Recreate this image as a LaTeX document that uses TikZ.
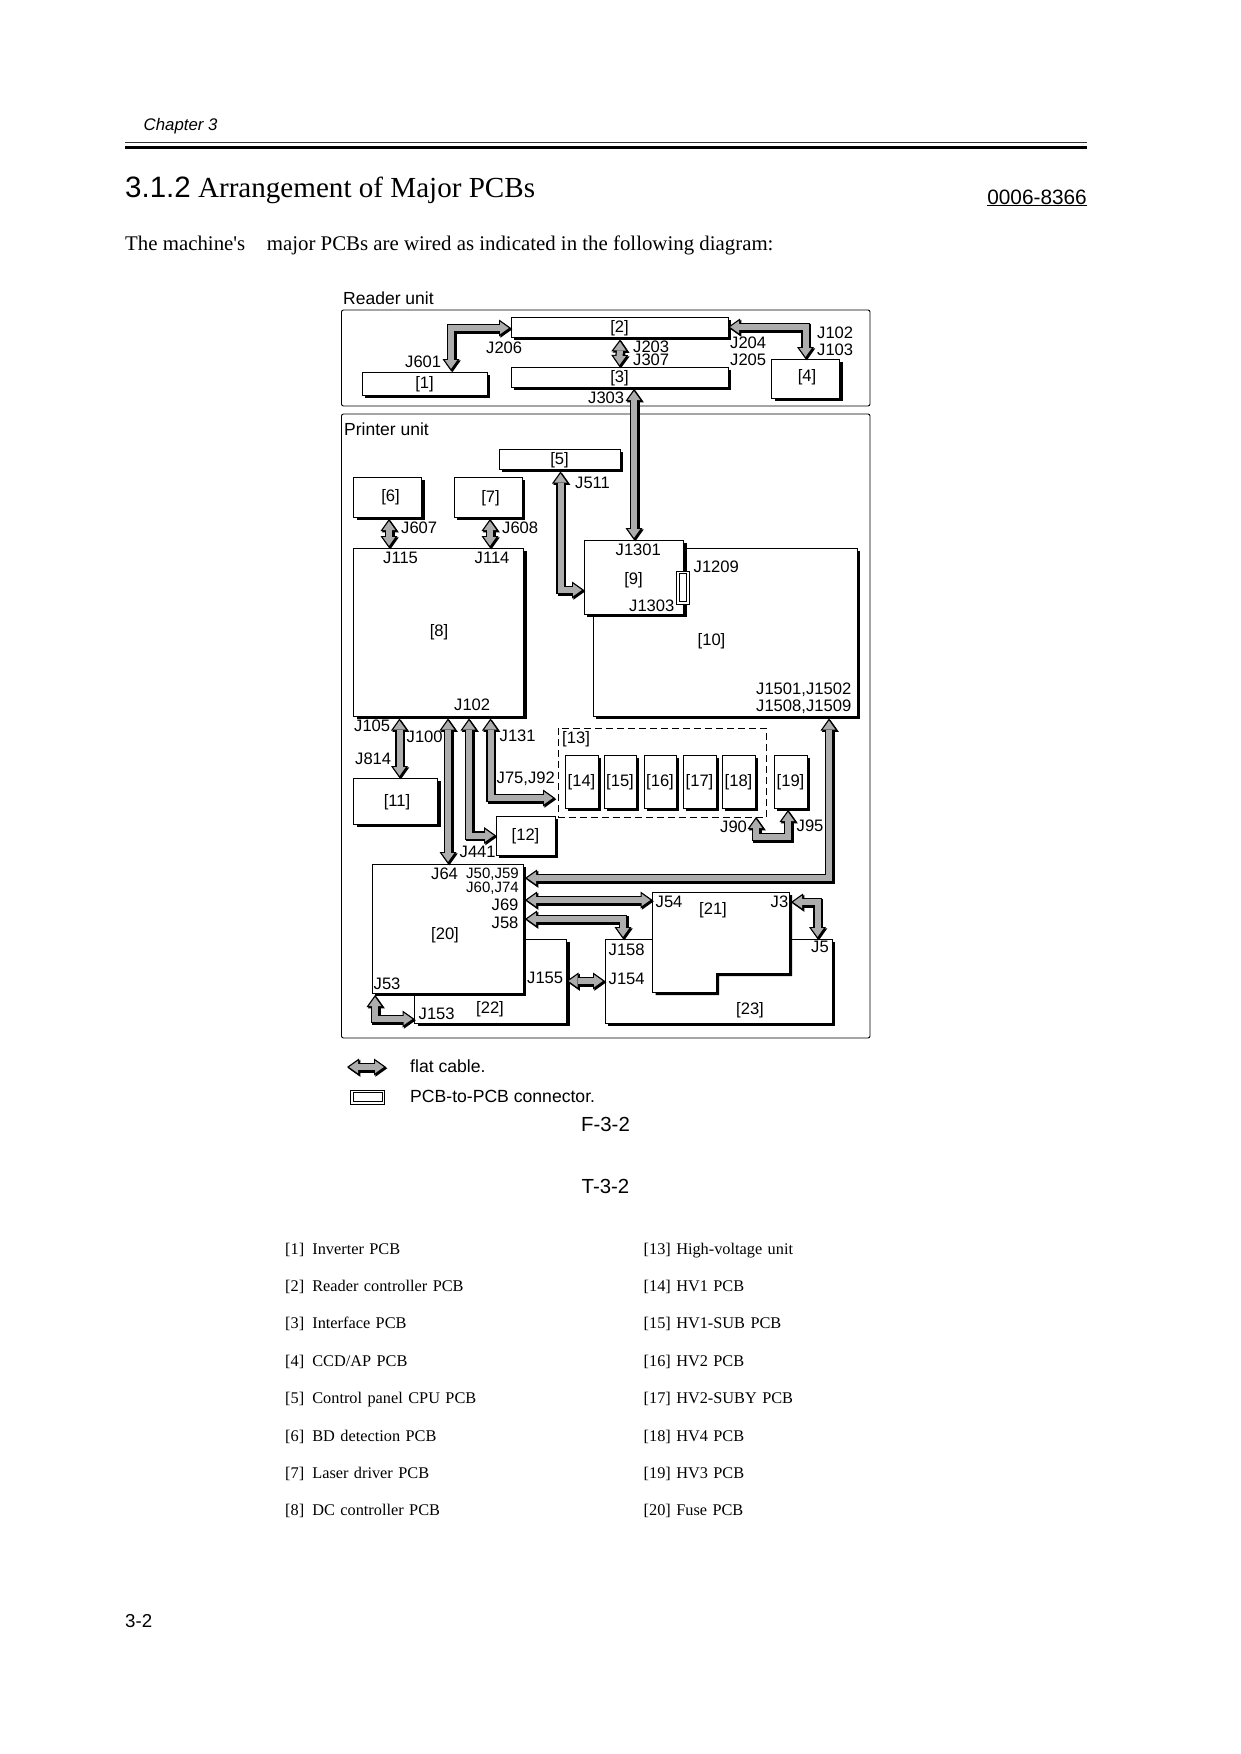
\documentclass[tikz,border=0pt]{standalone}
\usepackage{fontspec}
\setmainfont{Liberation Serif}
\setsansfont{Liberation Sans}
\usetikzlibrary{positioning,arrows.meta}
\definecolor{cablegray}{gray}{0.68}
\tikzset{
  pcb/.style={draw,fill=white,line width=0.8pt,inner sep=0pt,outer sep=0pt,text depth=1.5pt,
    font=\sffamily\fontsize{16.6}{18}\selectfont,anchor=north west,
    preaction={fill=black,transform canvas={shift={(3,3)}}}},
  unitbox/.style={draw,line width=0.9pt,rounded corners=2pt},
  jlbl/.style={inner sep=0pt,anchor=west,yshift=-0.6pt,font=\sffamily\fontsize{16.6}{18}\selectfont},
  nolbl/.style={inner sep=0pt,yshift=-0.6pt,font=\sffamily\fontsize{16.6}{18}\selectfont},
  boardjoint/.style={draw,fill=white,line width=0.8pt,inner sep=0pt,outer sep=0pt},
  outertip/.style={arrows={Triangle[length=12pt,width=17pt,line width=0pt]-Triangle[length=12pt,width=17pt,line width=0pt]}},
  cable/.style={draw=black,line width=8.5pt,outertip,
    preaction={draw=black,line width=8.5pt,outertip,transform canvas={shift={(1.3,1.3)}}},
    postaction={draw=cablegray,line width=6pt,shorten >=2.2pt,shorten <=2.2pt,
      arrows={Triangle[length=8.8pt,width=12.5pt,line width=0pt]-Triangle[length=8.8pt,width=12.5pt,line width=0pt]}}},
  headtxt/.style={inner sep=0pt,anchor=base west},
  item/.style={inner sep=0pt,text width=300pt,text height=12pt,text depth=4pt,
    font=\fontsize{16.3}{18}\selectfont},
  figtxt/.style={inner sep=0pt,font=\sffamily\fontsize{20.4}{22}\selectfont},
}

\begin{document}
\begin{tikzpicture}[x=1pt,y=-1pt,node distance=21pt]
  \useasboundingbox (0,0) rectangle (1240,1754);
  % page head
  \node[headtxt,font=\sffamily\itshape\fontsize{16.8}{18}\selectfont] (chap) at (143.5,130) {Chapter 3};
  \draw[line width=0.9pt,black!80] (125,142) -- (1087,142);
  \draw[line width=3.2pt] (125,147.6) -- (1087,147.6);
  \node[headtxt,font=\fontsize{29.1}{32}\selectfont] (title) at (125,197)
    {{\sffamily\fontsize{29.5}{32}\selectfont 3.1.2} Arrangement of Major PCBs};
  \node[headtxt,anchor=base east,font=\sffamily\fontsize{20.8}{24}\selectfont] (docno) at (1087,204) {\underline{0006-8366}};
  \node[headtxt,font=\fontsize{20.85}{24}\selectfont] (intro) at (125,250)
    {The machine\textquotesingle s\hspace{1.03em}major PCBs are wired as indicated in the following diagram:};

  % units
  \node[jlbl,font=\sffamily\fontsize{17.5}{20}\selectfont] (reader) at (343,298) {Reader unit};
  \draw[unitbox] (341.5,310) rectangle (870,406);
  \node[jlbl,font=\sffamily\fontsize{17.5}{20}\selectfont] (printer) at (344,428.5) {Printer unit};
  \draw[unitbox] (341.5,414) rectangle (870,1038);

  % boards
  \node[pcb,minimum width=125pt,minimum height=23pt] (b1) at (362,372) {[1]};
  \node[pcb,minimum width=217pt,minimum height=20pt] (b2) at (511,317) {[2]};
  \node[pcb,minimum width=217pt,minimum height=20pt] (b3) at (511,367) {[3]};
  \node[pcb,minimum width=68pt,minimum height=39pt]  (b4) at (771.5,359) {};
  \node[pcb,minimum width=121pt,minimum height=20pt] (b5) at (499,449) {[5]};
  \node[pcb,minimum width=68pt,minimum height=40pt]  (b6) at (353.5,477) {};
  \node[pcb,minimum width=68pt,minimum height=40pt]  (b7) at (454,477) {};
  \node[pcb,minimum width=170pt,minimum height=168pt] (b8) at (353.5,548) {};
  \node[pcb,minimum width=264pt,minimum height=168pt] (b10) at (593,548) {};
  \node[pcb,minimum width=99.5pt,minimum height=74pt] (b9) at (584,540) {};
  \node[boardjoint,minimum width=12.5pt,minimum height=33pt] (b9j) at (682.7,587.5) {};
  \node[boardjoint,minimum width=7pt,minimum height=27.5pt] (b9i) at (b9j) {};
  \node[pcb,minimum width=84pt,minimum height=46pt]  (b11) at (353.5,778) {};
  \node[pcb,minimum width=59pt,minimum height=39pt]  (b12) at (496,816) {[12]};
  \draw[dashed,dash pattern=on 7pt off 4pt,line width=0.7pt] (558.5,728) rectangle (766,817);
  \node[pcb,minimum width=33pt,minimum height=53pt]  (b14) at (565,755) {[14]};
  \node[pcb,minimum width=32pt,minimum height=53pt]  (b15) at (604,755) {[15]};
  \node[pcb,minimum width=32pt,minimum height=53pt]  (b16) at (644,755) {[16]};
  \node[pcb,minimum width=33pt,minimum height=53pt]  (b17) at (683,755) {[17]};
  \node[pcb,minimum width=33pt,minimum height=53pt]  (b18) at (722,755) {[18]};
  \node[pcb,minimum width=33pt,minimum height=53pt]  (b19) at (774,755) {[19]};
  \node[pcb,minimum width=152pt,minimum height=84pt] (b22) at (414.5,939) {};
  \node[pcb,minimum width=227pt,minimum height=84pt] (b23) at (605,939) {};
  \node[pcb,minimum width=151pt,minimum height=129pt] (b20) at (372,864) {};
  \path[pcb] (652.5,892) -- (789,892) -- (789,973) -- (716,973) -- (716,992) -- (652.5,992) -- cycle;

  % labels that sit off centre on their board
  \node[nolbl] (t4)  at (807,377) {[4]};
  \node[nolbl] (t6)  at (390.5,497) {[6]};
  \node[nolbl] (t7)  at (490.5,497.5) {[7]};
  \node[nolbl] (t8)  at (439,632) {[8]};
  \node[nolbl] (t9)  at (633.5,580) {[9]};
  \node[nolbl] (t10) at (711.5,640.5) {[10]};
  \node[nolbl] (t11) at (397,801.5) {[11]};
  \node[jlbl]  (t13) at (562,739) {[13]};
  \node[nolbl] (t20) at (445,935) {[20]};
  \node[nolbl] (t21) at (713,910) {[21]};
  \node[nolbl] (t22) at (490,1009) {[22]};
  \node[nolbl] (t23) at (750,1010) {[23]};

  % pin positions
  \coordinate (p601) at (451,371);
  \coordinate (p206) at (511,328);
  \coordinate (p2s)  at (620,339.5);
  \coordinate (p303) at (634,389);
  \coordinate (p5s)  at (560.5,471.5);
  \coordinate (p9w)  at (584,590);
  \coordinate (p6)   at (389,519);
  \coordinate (p115) at (389,548);
  \coordinate (p7)   at (490,519);
  \coordinate (p114) at (490,548);
  \coordinate (p105) at (399.5,718.5);
  \coordinate (p814) at (399.5,778);
  \coordinate (p100) at (448,718.5);
  \coordinate (p64)  at (448,864);
  \coordinate (p8a)  at (469,718.5);
  \coordinate (p131) at (490.5,718.5);
  \coordinate (p75)  at (555,798);
  \coordinate (p1501) at (829,718.5);
  \coordinate (p50)  at (525,878);
  \coordinate (p90)  at (756,817);
  \coordinate (p95)  at (788,810);
  \coordinate (p69)  at (525,900);
  \coordinate (p54)  at (652.5,900);
  \coordinate (p58)  at (525,919);
  \coordinate (p158) at (623,939);
  \coordinate (p3)   at (791,902);
  \coordinate (p5)   at (817.5,939);
  \coordinate (p53)  at (375,995);
  \coordinate (p153) at (414.5,1019);
  \coordinate (lg1)  at (347,1067);
  \coordinate (lg2)  at (386,1067);

  % cables
  \draw[cable] (p601) |- (p206);
  \draw[cable] (p2s) -- (b3.north);
  \draw[cable] (b2.east) -| (b4.north);
  \draw[cable] (p303) -- (b9.north -| p303);
  \draw[cable] (p5s) |- (p9w);
  \draw[cable] (p6) -- (p115);
  \draw[cable] (p7) -- (p114);
  \draw[cable] (p105) -- (p814);
  \draw[cable] (p100) -- (p64);
  \draw[cable] (p8a) |- (b12.west);
  \draw[cable] (p131) |- (p75);
  \draw[cable] (p1501) |- (p50);
  \draw[cable] (p90) -- ++(0,20) -| (p95);
  \draw[cable] (p69) -- (p54);
  \draw[cable] (p58) -| (p158);
  \draw[cable] (p3) -| (p5);
  \draw[cable] (b22.east) -- (b23.west);
  \draw[cable] (p53) |- (p153);

  % connector names
  \node[jlbl] (j206)  at (486,347.5) {J206};
  \node[jlbl] (j601)  at (405,361.5) {J601};
  \node[jlbl] (j203)  at (633,346) {J203};
  \node[jlbl] (j307)  at (633,359.5) {J307};
  \node[jlbl] (j204)  at (730,342.5) {J204};
  \node[jlbl] (j205)  at (730,359) {J205};
  \node[jlbl] (j102a) at (817,332.5) {J102};
  \node[jlbl] (j103)  at (817,349) {J103};
  \node[jlbl] (j303)  at (588,397) {J303};
  \node[jlbl] (j511)  at (575,482) {J511};
  \node[jlbl] (j607)  at (401,527.5) {J607};
  \node[jlbl] (j608)  at (502,527.5) {J608};
  \node[jlbl] (j115)  at (383,557.5) {J115};
  \node[jlbl] (j114)  at (474.5,557.5) {J114};
  \node[jlbl] (j1301) at (615.5,549) {J1301};
  \node[jlbl] (j1303) at (629,605.5) {J1303};
  \node[jlbl] (j1209) at (693.5,566.5) {J1209};
  \node[jlbl] (j102b) at (454,704.5) {J102};
  \node[jlbl] (j1501) at (756,689.5) {J1501,J1502};
  \node[jlbl] (j1508) at (756,706.5) {J1508,J1509};
  \node[jlbl] (j105)  at (354,725.5) {J105};
  \node[jlbl] (j100)  at (406.5,736.5) {J100};
  \node[jlbl] (j131)  at (499.5,735.5) {J131};
  \node[jlbl] (j814)  at (355,758.5) {J814};
  \node[jlbl] (j75)   at (496.5,778.5) {J75,J92};
  \node[jlbl] (j441)  at (459.5,851.5) {J441};
  \node[jlbl] (j90)   at (720,826.5) {J90};
  \node[jlbl] (j95)   at (796.5,825) {J95};
  \node[jlbl] (j64)   at (431,873) {J64};
  \node[jlbl,font=\sffamily\fontsize{15}{16}\selectfont] (j50) at (466,874) {J50,J59};
  \node[jlbl,font=\sffamily\fontsize{15}{16}\selectfont] (j60) at (466,888) {J60,J74};
  \node[jlbl] (j69)   at (491.5,904.5) {J69};
  \node[jlbl] (j58)   at (491.5,922.5) {J58};
  \node[jlbl] (j54)   at (655.5,901.5) {J54};
  \node[jlbl] (j3)    at (770.5,901.5) {J3};
  \node[jlbl] (j158)  at (608.5,949) {J158};
  \node[jlbl] (j5)    at (811,946.5) {J5};
  \node[jlbl] (j155)  at (527,977.5) {J155};
  \node[jlbl] (j154)  at (608.5,978.5) {J154};
  \node[jlbl] (j53)   at (373.5,983) {J53};
  \node[jlbl] (j153)  at (418.5,1013.5) {J153};

  % legend
  \draw[cable] (lg1) -- (lg2);
  \node[jlbl,font=\sffamily\fontsize{17.6}{20}\selectfont] (lgc) at (410,1066) {flat cable.};
  \node[boardjoint,minimum width=34pt,minimum height=14pt] (lgj) at (367.5,1097) {};
  \node[boardjoint,minimum width=29pt,minimum height=9pt] (lgi) at (lgj) {};
  \node[jlbl,font=\sffamily\fontsize{17.6}{20}\selectfont] (lgp) at (410,1096) {PCB-to-PCB connector.};
  \node[figtxt] (fig) at (605.5,1124) {F-3-2};
  \node[figtxt] (tab) at (605.5,1186.5) {T-3-2};

  % parts table
  \node[item,anchor=west]  (a1) at (285,1250) {[1]\hspace{0.5em}Inverter PCB};
  \node[item,below=of a1]  (a2) {[2]\hspace{0.5em}Reader controller PCB};
  \node[item,below=of a2]  (a3) {[3]\hspace{0.5em}Interface PCB};
  \node[item,below=of a3]  (a4) {[4]\hspace{0.5em}CCD/AP PCB};
  \node[item,below=of a4]  (a5) {[5]\hspace{0.5em}Control panel CPU PCB};
  \node[item,below=of a5]  (a6) {[6]\hspace{0.5em}BD detection PCB};
  \node[item,below=of a6]  (a7) {[7]\hspace{0.5em}Laser driver PCB};
  \node[item,below=of a7]  (a8) {[8]\hspace{0.5em}DC controller PCB};
  \node[item,anchor=west]  (c1) at (643.5,1250) {[13] High-voltage unit};
  \node[item,below=of c1]  (c2) {[14] HV1 PCB};
  \node[item,below=of c2]  (c3) {[15] HV1-SUB PCB};
  \node[item,below=of c3]  (c4) {[16] HV2 PCB};
  \node[item,below=of c4]  (c5) {[17] HV2-SUBY PCB};
  \node[item,below=of c5]  (c6) {[18] HV4 PCB};
  \node[item,below=of c6]  (c7) {[19] HV3 PCB};
  \node[item,below=of c7]  (c8) {[20] Fuse PCB};
  \node[headtxt,anchor=west,font=\sffamily\fontsize{18.7}{20}\selectfont] (pageno) at (125,1621) {3-2};
\end{tikzpicture}
\end{document}
